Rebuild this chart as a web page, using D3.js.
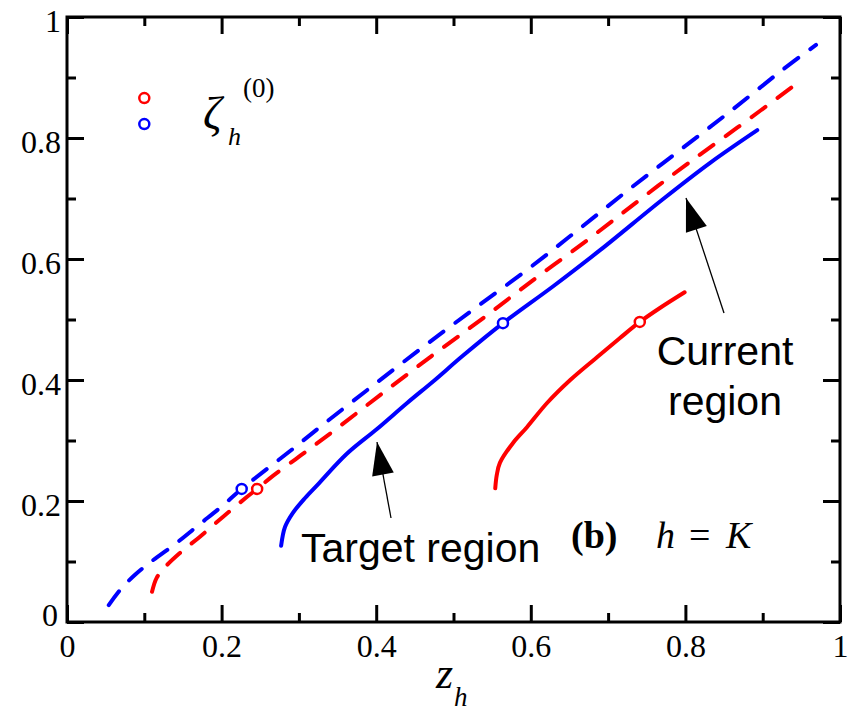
<!DOCTYPE html>
<html><head><meta charset="utf-8">
<script src="https://cdn.jsdelivr.net/npm/d3@7/dist/d3.min.js"></script>
<style>body{margin:0;background:#fff}svg{display:block}
.serif{font-family:"Liberation Serif","Times New Roman","DejaVu Serif",serif}
.sans{font-family:"Liberation Sans",Arial,sans-serif}</style>
</head><body>
<svg id="c" width="856" height="711"></svg>
<script>
// ---- data ----
const majorTicks = [0, 0.2, 0.4, 0.6, 0.8, 1];
const minorTicks = [0.1, 0.3, 0.5, 0.7, 0.9];
const tickLabels = ["0", "0.2", "0.4", "0.6", "0.8", "1"];

const blueDashed = [[0.054,0.028],[0.070,0.055],[0.088,0.078],[0.107,0.098],[0.140,0.129],[0.172,0.162],[0.202,0.193],[0.226,0.220],[0.289,0.283],[0.327,0.322],[0.392,0.387],[0.459,0.453],[0.525,0.516],[0.595,0.582],[0.661,0.648],[0.726,0.714],[0.793,0.780],[0.860,0.846],[0.925,0.912],[0.969,0.954]];
const redDashed = [[0.110,0.050],[0.116,0.073],[0.127,0.091],[0.146,0.114],[0.172,0.141],[0.202,0.174],[0.233,0.207],[0.246,0.220],[0.266,0.241],[0.301,0.274],[0.343,0.314],[0.405,0.375],[0.472,0.440],[0.538,0.502],[0.605,0.567],[0.673,0.631],[0.737,0.694],[0.799,0.754],[0.867,0.817],[0.940,0.886]];
const blueSolid = [[0.277,0.126],[0.282,0.157],[0.292,0.180],[0.308,0.205],[0.325,0.228],[0.362,0.278],[0.401,0.319],[0.440,0.362],[0.474,0.398],[0.512,0.440],[0.564,0.494],[0.629,0.555],[0.690,0.615],[0.770,0.698],[0.832,0.759],[0.893,0.813]];
const redSolid = [[0.554,0.221],[0.556,0.243],[0.560,0.263],[0.577,0.296],[0.595,0.322],[0.621,0.362],[0.651,0.400],[0.686,0.438],[0.715,0.469],[0.741,0.496],[0.767,0.519],[0.799,0.545]];
const zeta0 = [
  {x:0.226, y:0.220, c:"blue"},
  {x:0.246, y:0.220, c:"red"},
  {x:0.564, y:0.494, c:"blue"},
  {x:0.741, y:0.496, c:"red"}
];
const legendY = [0.866, 0.823];
const legendC = ["red", "blue"];

// ---- layout ----
const svg = d3.select("#c");
const X0 = 67, X1 = 840, Y0 = 622, Y1 = 17;
const x = d3.scaleLinear().domain([0,1]).range([X0,X1]);
const y = d3.scaleLinear().domain([0,1]).range([Y0,Y1]);

const line = d3.line().x(d=>x(d[0])).y(d=>y(d[1])).curve(d3.curveCatmullRom.alpha(0.5));

function drawAxis(gen, tx, ty) {
  const g = svg.append("g").attr("transform", `translate(${tx},${ty})`).call(gen);
  g.attr("font-family", null).attr("font-size", null);
  g.select(".domain").remove();
  g.selectAll(".tick line").attr("stroke","#000").attr("stroke-width",3);
  g.selectAll("text").attr("class","serif").style("font-size","32px").attr("fill","#000");
  return g;
}
const fmt = d => tickLabels[majorTicks.indexOf(d)];
// bottom
drawAxis(d3.axisBottom(x).tickValues(majorTicks).tickSize(-17).tickPadding(12).tickFormat(fmt), 0, Y0);
drawAxis(d3.axisBottom(x).tickValues(minorTicks).tickSize(-9).tickFormat(""), 0, Y0);
// top
drawAxis(d3.axisTop(x).tickValues(majorTicks).tickSize(-17).tickFormat(""), 0, Y1);
drawAxis(d3.axisTop(x).tickValues(minorTicks).tickSize(-9).tickFormat(""), 0, Y1);
// left
const gl = drawAxis(d3.axisLeft(y).tickValues(majorTicks).tickSize(-17).tickPadding(6).tickFormat(fmt), X0, 0);
gl.selectAll("text").attr("dy","0.44em");
gl.selectAll(".tick").filter(d=>d===0).select("text").attr("x",-9).attr("dy","0.12em");
drawAxis(d3.axisLeft(y).tickValues(minorTicks).tickSize(-9).tickFormat(""), X0, 0);
// right
drawAxis(d3.axisRight(y).tickValues(majorTicks).tickSize(-17).tickFormat(""), X1, 0);
drawAxis(d3.axisRight(y).tickValues(minorTicks).tickSize(-9).tickFormat(""), X1, 0);

// frame
svg.append("rect").attr("x",X0).attr("y",Y1).attr("width",X1-X0).attr("height",Y0-Y1)
  .attr("fill","none").attr("stroke","#000").attr("stroke-width",3);

// curves
const curves = [
  {d: blueDashed, c:"blue", dash:"17 15"},
  {d: redDashed, c:"red", dash:"17 15"},
  {d: blueSolid, c:"blue", dash:null},
  {d: redSolid, c:"red", dash:null}
];
curves.forEach(k=>{
  svg.append("path").attr("d", line(k.d)).attr("fill","none").attr("stroke",k.c)
    .attr("stroke-width",4).attr("stroke-linecap","round")
    .attr("stroke-dasharray", k.dash);
});

// markers
svg.selectAll("circle.m").data(zeta0).join("circle").attr("class","m")
  .attr("cx",d=>x(d.x)).attr("cy",d=>y(d.y)).attr("r",5)
  .attr("fill","#fff").attr("stroke",d=>d.c).attr("stroke-width",2.5);

// legend
svg.selectAll("circle.l").data(legendY).join("circle").attr("class","l")
  .attr("cx",x(0.1)).attr("cy",d=>y(d)).attr("r",5).attr("fill","#fff")
  .attr("stroke",(d,i)=>legendC[i]).attr("stroke-width",2.5);
function txt(cls, xx, yy, size, s, style, weight, anchor){
  const t = svg.append("text").attr("class",cls).attr("x",xx).attr("y",yy)
    .style("font-size",size+"px").attr("fill","#000").text(s);
  if (style) t.style("font-style",style);
  if (weight) t.style("font-weight",weight);
  if (anchor) t.attr("text-anchor",anchor);
  return t;
}
txt("serif",203,129,46,"ζ","italic");
txt("serif",228,145,26,"h","italic");
txt("serif",243,97,27,"(0)");

// axis title
txt("serif",436,688,44,"z","italic");
txt("serif",454,706,27,"h","italic");

// panel label
txt("serif",571,548,38,"(b)",null,"bold");
txt("serif",656,548,38,"h","italic");
txt("serif",689,548,38,"=");
txt("serif",726,548,38,"K","italic");

// annotations
txt("sans",301,562,41,"Target region");
txt("sans",725,365,41,"Current",null,null,"middle");
txt("sans",725,415,41,"region",null,null,"middle");

function arrow(x0,y0,x1,y1){
  svg.append("line").attr("x1",x0).attr("y1",y0).attr("x2",x1).attr("y2",y1).attr("stroke","#000").attr("stroke-width",1.3);
  const a = Math.atan2(y1-y0,x1-x0), L=33, W=11;
  const bx = x1 - L*Math.cos(a), by = y1 - L*Math.sin(a);
  const px = -Math.sin(a)*W, py = Math.cos(a)*W;
  svg.append("path").attr("d",`M${x1},${y1}L${bx+px},${by+py}L${bx-px},${by-py}Z`).attr("fill","#000");
}
arrow(391,518,377,442);
arrow(724,313,686,198);
</script>
</body></html>
